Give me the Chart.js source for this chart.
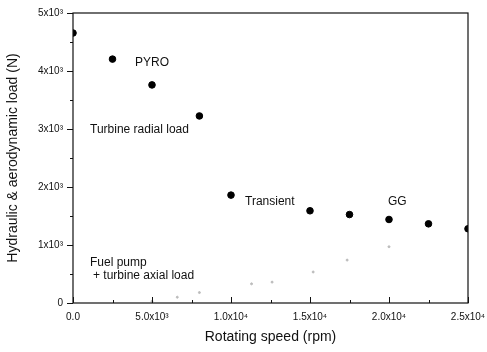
<!DOCTYPE html>
<html><head><meta charset="utf-8">
<script src="https://cdn.jsdelivr.net/npm/chart.js@4/dist/chart.umd.min.js"></script>
<style>html,body{margin:0;padding:0;background:#fff}#wrap{width:487px;height:352px}</style>
</head><body><div id="wrap"><canvas id="c" width="487" height="352"></canvas></div>
<script>
const speedRpm = [0, 2500, 5000, 8000, 10000, 15000, 17500, 20000, 22500, 25000];
const totalLoad = [4655, 4205, 3760, 3225, 1860, 1590, 1525, 1440, 1365, 1280];
const axialSpeed = [5000, 6600, 8000, 11300, 12600, 15200, 17350, 20000];
const axialLoad = [30, 100, 180, 330, 360, 535, 740, 970];
const xTickValues = [0, 5000, 10000, 15000, 20000, 25000];
const xTickLabels = ['0.0', '5.0x10³', '1.0x10⁴', '1.5x10⁴', '2.0x10⁴', '2.5x10⁴'];
const yTickValues = [0, 1000, 2000, 3000, 4000, 5000];
const yTickLabels = ['0', '1x10³', '2x10³', '3x10³', '4x10³', '5x10³'];
const noteTexts = ['PYRO', 'Turbine radial load', 'Transient', 'GG', 'Fuel pump', '+ turbine axial load'];
const noteX = [3924, 1076, 10886, 19937, 1076, 1266];
const noteY = [4138, 2983, 1741, 1741, 690, 466];

const FONT = '"Liberation Sans", Arial, sans-serif';

const decor = {
  id: 'decor',
  afterDraw(chart) {
    const ctx = chart.ctx, a = chart.chartArea;
    const xs = chart.scales.x, ys = chart.scales.y;
    ctx.save();
    ctx.strokeStyle = '#111';
    ctx.lineWidth = 1.2;
    ctx.strokeRect(a.left, a.top, a.right - a.left, a.bottom - a.top);
    ctx.lineWidth = 1;
    ctx.beginPath();
    for (let v = 0; v <= 25000; v += 2500) {
      const px = Math.round(xs.getPixelForValue(v)) + 0.5;
      const len = (v % 5000 === 0) ? 6 : 3;
      ctx.moveTo(px, a.bottom); ctx.lineTo(px, a.bottom - len);
    }
    for (let v = 0; v <= 5000; v += 500) {
      const py = Math.round(ys.getPixelForValue(v)) + 0.5;
      const len = (v % 1000 === 0) ? 6 : 3;
      ctx.moveTo(a.left, py); ctx.lineTo(a.left - len, py);
    }
    ctx.stroke();
    ctx.fillStyle = '#111';
    ctx.font = '12px ' + FONT;
    ctx.textBaseline = 'middle';
    ctx.textAlign = 'left';
    for (let i = 0; i < noteTexts.length; i++) {
      ctx.fillText(noteTexts[i], xs.getPixelForValue(noteX[i]), ys.getPixelForValue(noteY[i]));
    }
    ctx.restore();
  }
};

new Chart(document.getElementById('c'), {
  type: 'scatter',
  data: {
    datasets: [
      {
        data: speedRpm.map((x, i) => ({x, y: totalLoad[i]})),
        backgroundColor: '#000', borderColor: '#000',
        pointRadius: 3.3, pointHoverRadius: 3.3, clip: 0
      },
      {
        data: axialSpeed.map((x, i) => ({x, y: axialLoad[i]})),
        backgroundColor: '#bbb', borderColor: '#bbb',
        pointRadius: 1, pointHoverRadius: 1, clip: 0
      }
    ]
  },
  options: {
    responsive: false,
    animation: false,
    devicePixelRatio: 1,
    layout: { padding: { left: 0, right: 19, top: 13, bottom: 0 } },
    plugins: { legend: { display: false }, tooltip: { enabled: false } },
    scales: {
      x: {
        type: 'linear', min: 0, max: 25000,
        afterBuildTicks(s) { s.ticks = xTickValues.map(v => ({value: v})); },
        afterFit(s) { s.height = 49; s.paddingLeft = 0; s.paddingRight = 0; },
        grid: { display: false, drawTicks: false },
        border: { display: false },
        ticks: {
          padding: 8, color: '#111', maxRotation: 0, autoSkip: false,
          font: { family: FONT, size: 10 },
          callback: (v) => { const i = xTickValues.indexOf(v); return i >= 0 ? xTickLabels[i] : ''; }
        },
        title: { display: true, text: 'Rotating speed (rpm)', color: '#111',
          font: { family: FONT, size: 14 }, padding: { top: 0, bottom: 6 } }
      },
      y: {
        type: 'linear', min: 0, max: 5000,
        afterBuildTicks(s) { s.ticks = yTickValues.map(v => ({value: v})); },
        afterFit(s) { s.width = 73; s.paddingTop = 0; s.paddingBottom = 0; },
        grid: { display: false, drawTicks: false },
        border: { display: false },
        ticks: {
          padding: 10, color: '#111', autoSkip: false,
          font: { family: FONT, size: 10 },
          callback: (v) => { const i = yTickValues.indexOf(v); return i >= 0 ? yTickLabels[i] : ''; }
        },
        title: { display: true, text: 'Hydraulic & aerodynamic load (N)', color: '#111',
          font: { family: FONT, size: 14 }, padding: { top: 5, bottom: 0 } }
      }
    }
  },
  plugins: [decor]
});
</script>
</body></html>
